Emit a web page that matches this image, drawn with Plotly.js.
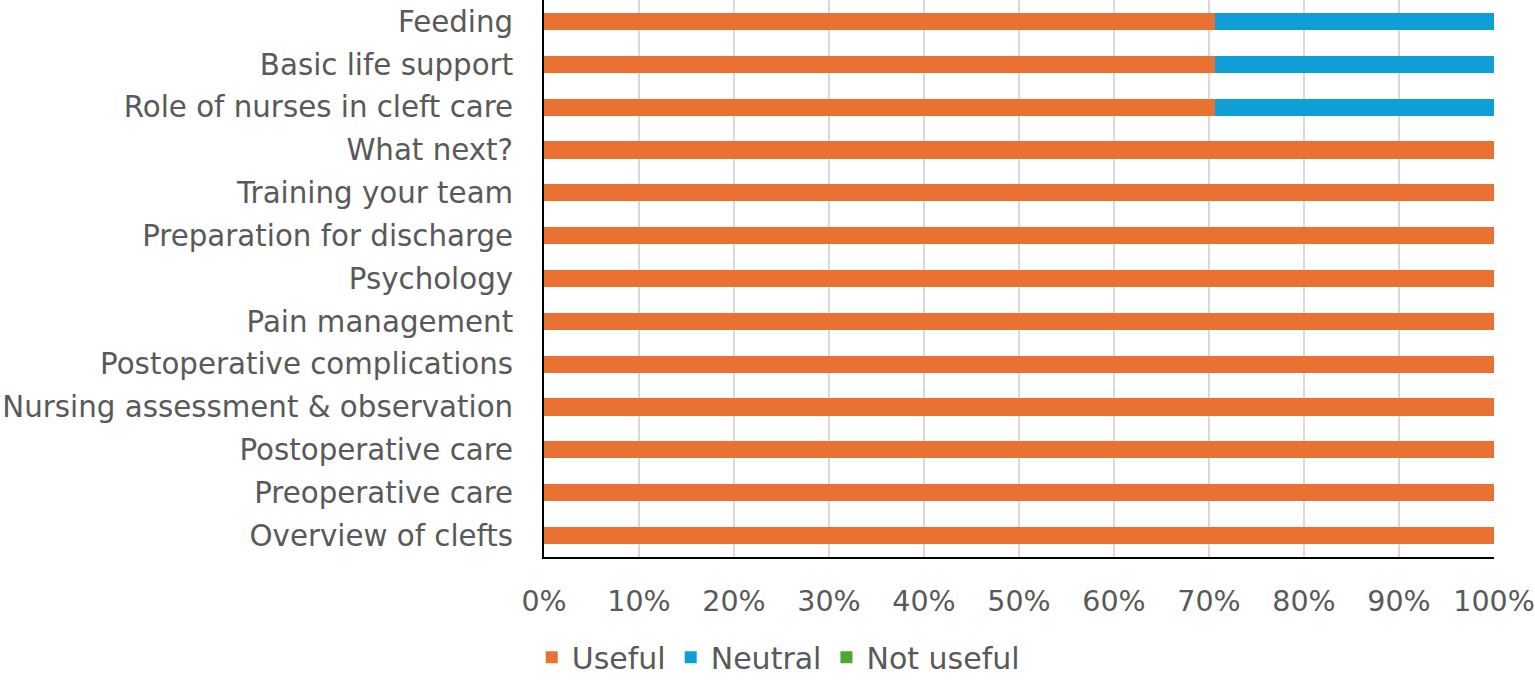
<!DOCTYPE html>
<html><head><meta charset="utf-8">
<script src="https://cdn.plot.ly/plotly-3.0.1.min.js"></script>
<style>html,body{margin:0;padding:0;background:#fff}#c{width:1535px;height:681px}</style>
</head><body><div id="c"></div>
<script>
const categories = ["Feeding","Basic life support","Role of nurses in cleft care","What next?","Training your team","Preparation for discharge","Psychology","Pain management","Postoperative complications","Nursing assessment & observation","Postoperative care","Preoperative care","Overview of clefts"];
const useful = [70.6,70.6,70.6,100,100,100,100,100,100,100,100,100,100];
const neutral = [29.4,29.4,29.4,0,0,0,0,0,0,0,0,0,0];
const notUseful = [0,0,0,0,0,0,0,0,0,0,0,0,0];
const xTickVals = [0,10,20,30,40,50,60,70,80,90,100];
const xTickText = xTickVals.map(v => v + "%");

const font = "'DejaVu Sans', sans-serif";
const mk = (name, vals, color) => ({type:'bar', orientation:'h', name, x:vals, y:categories, marker:{color}, hoverinfo:'x+name'});
const data = [mk('Useful', useful, '#E97132'), mk('Neutral', neutral, '#0F9ED5'), mk('Not useful', notUseful, '#4EA72E')];
const layout = {
  width:1535, height:681, barmode:'stack', bargap:0.6,
  margin:{l:544, r:41, t:0, b:124},
  paper_bgcolor:'#fff', plot_bgcolor:'#fff',
  font:{family:font, color:'#595959', size:29.3},
  xaxis:{range:[0,100], tickvals:xTickVals, ticktext:xTickText, showgrid:true, gridcolor:'#d9d9d9', gridwidth:2,
         showline:true, linecolor:'#000', linewidth:2, zeroline:false, ticks:'', ticklabelstandoff:18, tickfont:{size:28.5}, fixedrange:true},
  yaxis:{autorange:'reversed', showline:true, linecolor:'#000', linewidth:2, ticks:'', ticklabelstandoff:23, showgrid:false, fixedrange:true},
  legend:{orientation:'h', x:0.507, xref:'container', xanchor:'center', y:0.035, yref:'container', yanchor:'middle', font:{size:30, color:'#595959'}, traceorder:'normal', itemwidth:30},
  showlegend:true
};
Plotly.newPlot('c', data, layout, {displayModeBar:false, staticPlot:true});
</script></body></html>
